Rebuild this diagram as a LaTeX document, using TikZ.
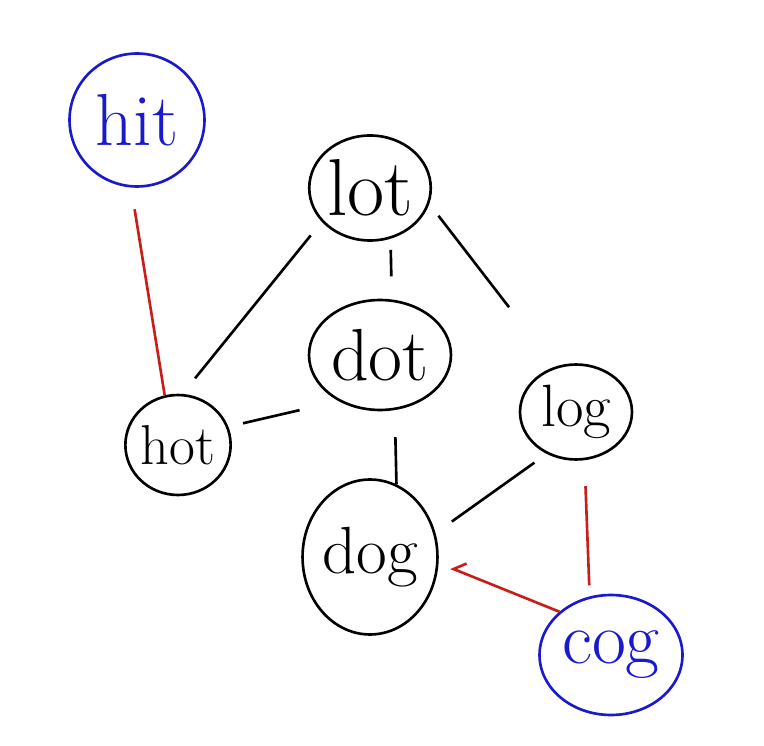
\documentclass[tikz,border=0pt]{standalone}
\usepackage{fontspec}
\usetikzlibrary{shapes.geometric, arrows.meta}
\definecolor{inkblue}{RGB}{25,25,205}
\definecolor{inkred}{RGB}{200,30,25}

\begin{document}
\begin{tikzpicture}[x=0.02cm, y=-0.02cm,
            > = {Straight Barb[right, length=2mm]},
   word/.style = {draw, ellipse, line width=1.5pt, inner sep=0pt},
blueword/.style = {word, draw=inkblue, text=inkblue},
   link/.style = {line width=1.5pt},
redlink/.style = {link, draw=inkred}
                        ]
\useasboundingbox (0,0) rectangle (764,746);
% words
\node[blueword, minimum width=2.7cm, minimum height=2.66cm, font=\fontsize{42}{42}\selectfont] (hit) at (137,120) {hit};
\node[word, minimum width=2.3cm, minimum height=2.1cm, font=\fontsize{46}{46}\selectfont] (lot) at (370,188) {lot};
\node[word, minimum width=2.84cm, minimum height=2.2cm, font=\fontsize{42}{42}\selectfont] (dot) at (380,355) {dot};
\node[word, minimum width=1.84cm, minimum height=2cm, font=\fontsize{32}{32}\selectfont] (hot) at (178,445) {hot};
\node[word, minimum width=2.24cm, minimum height=1.9cm, font=\fontsize{34}{34}\selectfont] (log) at (576,412) {log};
\node[word, minimum width=2.68cm, minimum height=3.1cm, font=\fontsize{38}{38}\selectfont] (dog) at (370,557) {dog};
\node[blueword, minimum width=2.86cm, minimum height=2.4cm, font=\fontsize{42}{42}\selectfont] (cog) at (611,655) {cog};
% links
\draw[link, shorten <=0.4cm, shorten >=0.35cm] (hot.85) -- (lot.215);
\draw[link, shorten <=0.3cm, shorten >=0.8cm] (hot.20) -- (dot.228);
\draw[link, shorten <=0.22cm, shorten >=0.46cm] (lot.-68) -- (dot.78);
\draw[link, shorten <=0.3cm, shorten >=1.5cm] (lot.-15) -- (log.115);
\draw[link, shorten <=0.54cm] (dot.-75) -- (dog.70);
\draw[link, shorten <=0.3cm, shorten >=0.4cm] (log.235) -- (dog.20);
% path to the goal
\draw[redlink, shorten <=0.44cm] (hit.265) -- (hot.105);
\draw[redlink, shorten <=0.52cm, shorten >=0.22cm] (log.-80) -- (cog.110);
\draw[redlink, ->, shorten >=0.26cm] (cog.140) -- (dog.-5);
\end{tikzpicture}
\end{document}
